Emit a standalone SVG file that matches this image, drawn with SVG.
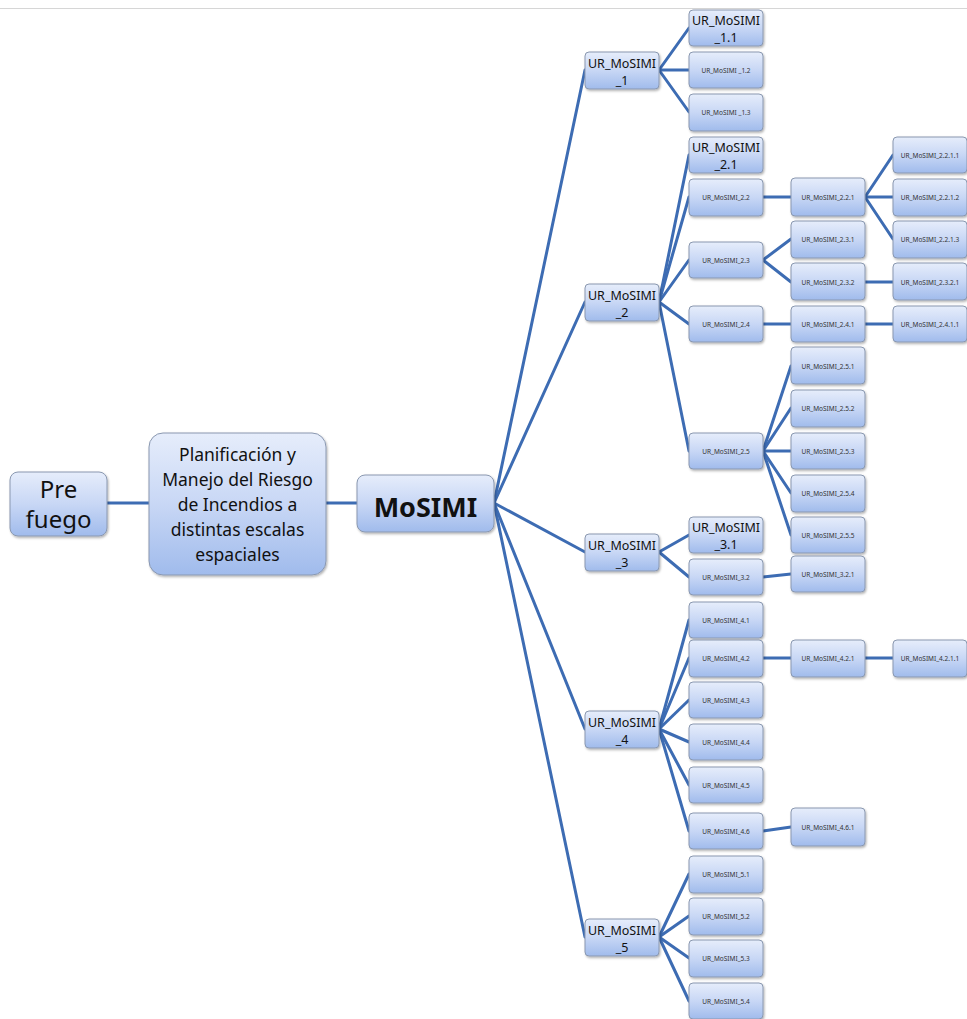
<svg xmlns="http://www.w3.org/2000/svg" width="967" height="1019" viewBox="0 0 967 1019">
<defs>
<linearGradient id="g" x1="0" y1="0" x2="0" y2="1">
<stop offset="0" stop-color="#e6edfb"/>
<stop offset="0.5" stop-color="#c8d7f5"/>
<stop offset="1" stop-color="#a0bbec"/>
</linearGradient>
<filter id="sh" x="-10%" y="-10%" width="130%" height="140%">
<feDropShadow dx="1" dy="1.5" stdDeviation="1.2" flood-color="#000" flood-opacity="0.3"/>
</filter>
<style>
.n rect{fill:url(#g);stroke:#8a98b0;stroke-width:1;filter:url(#sh)}
.n text{font-family:"Noto Sans","Liberation Sans",sans-serif;fill:#111;text-anchor:middle}
.big{font-size:12.5px}
.sm{font-size:6.5px;fill:#333 !important}
.c line{stroke:#3d6cb3;stroke-width:3;stroke-linecap:round}
</style>
</defs>
<rect width="967" height="1019" fill="#fff"/>
<line x1="0" y1="8.5" x2="967" y2="8.5" stroke="#d6d6d6" stroke-width="1"/>

<g id="connectors" class="c">
<line x1="107" y1="503" x2="149" y2="503"/>
<line x1="326" y1="503" x2="357" y2="503"/>
<line x1="494" y1="503" x2="585" y2="70"/>
<line x1="494" y1="503" x2="585" y2="302"/>
<line x1="494" y1="503" x2="585" y2="552"/>
<line x1="494" y1="503" x2="585" y2="729"/>
<line x1="494" y1="503" x2="585" y2="937"/>
<line x1="659" y1="70" x2="689" y2="28"/>
<line x1="659" y1="70" x2="689" y2="70"/>
<line x1="659" y1="70" x2="689" y2="112"/>
<line x1="659" y1="302" x2="689" y2="155"/>
<line x1="659" y1="302" x2="689" y2="197"/>
<line x1="659" y1="302" x2="689" y2="260"/>
<line x1="659" y1="302" x2="689" y2="324"/>
<line x1="659" y1="302" x2="689" y2="451"/>
<line x1="659" y1="552" x2="689" y2="535"/>
<line x1="659" y1="552" x2="689" y2="577"/>
<line x1="659" y1="729" x2="689" y2="620"/>
<line x1="659" y1="729" x2="689" y2="658"/>
<line x1="659" y1="729" x2="689" y2="700"/>
<line x1="659" y1="729" x2="689" y2="742"/>
<line x1="659" y1="729" x2="689" y2="785"/>
<line x1="659" y1="729" x2="689" y2="831"/>
<line x1="659" y1="937" x2="689" y2="874"/>
<line x1="659" y1="937" x2="689" y2="916"/>
<line x1="659" y1="937" x2="689" y2="958"/>
<line x1="659" y1="937" x2="689" y2="1001"/>
<line x1="763" y1="197" x2="791" y2="197"/>
<line x1="763" y1="260" x2="791" y2="239"/>
<line x1="763" y1="260" x2="791" y2="282"/>
<line x1="763" y1="324" x2="791" y2="324"/>
<line x1="763" y1="451" x2="791" y2="366"/>
<line x1="763" y1="451" x2="791" y2="408"/>
<line x1="763" y1="451" x2="791" y2="451"/>
<line x1="763" y1="451" x2="791" y2="493"/>
<line x1="763" y1="451" x2="791" y2="535"/>
<line x1="763" y1="577" x2="791" y2="574"/>
<line x1="763" y1="658" x2="791" y2="658"/>
<line x1="763" y1="831" x2="791" y2="827"/>
<line x1="865" y1="197" x2="893" y2="155"/>
<line x1="865" y1="197" x2="893" y2="197"/>
<line x1="865" y1="197" x2="893" y2="239"/>
<line x1="865" y1="282" x2="893" y2="282"/>
<line x1="865" y1="324" x2="893" y2="324"/>
<line x1="865" y1="658" x2="893" y2="658"/>
</g>

<g id="prefuego" class="n"><rect x="10" y="472" width="97" height="64" rx="8"/>
<text style="font-size:24px"><tspan x="58.5" y="498">Pre</tspan><tspan x="58.5" y="528">fuego</tspan></text></g>

<g id="planificacion" class="n"><rect x="149" y="433" width="177" height="142" rx="14"/>
<text style="font-size:17.5px"><tspan x="237.5" y="461">Planificación y</tspan><tspan x="237.5" y="486">Manejo del Riesgo</tspan><tspan x="237.5" y="511">de Incendios a</tspan><tspan x="237.5" y="536">distintas escalas</tspan><tspan x="237.5" y="561">espaciales</tspan></text></g>

<g id="mosimi" class="n"><rect x="357" y="475" width="137" height="57" rx="8"/>
<text x="425.5" y="517" style="font-size:27px;font-weight:bold">MoSIMI</text></g>

<g id="ur1" class="n"><rect x="585" y="52" width="74" height="37" rx="4"/>
<text class="big"><tspan x="622" y="68">UR_MoSIMI</tspan><tspan x="622" y="85">_1</tspan></text></g>
<g id="ur2" class="n"><rect x="585" y="284" width="74" height="37" rx="4"/>
<text class="big"><tspan x="622" y="300">UR_MoSIMI</tspan><tspan x="622" y="317">_2</tspan></text></g>
<g id="ur3" class="n"><rect x="585" y="534" width="74" height="37" rx="4"/>
<text class="big"><tspan x="622" y="550">UR_MoSIMI</tspan><tspan x="622" y="567">_3</tspan></text></g>
<g id="ur4" class="n"><rect x="585" y="711" width="74" height="37" rx="4"/>
<text class="big"><tspan x="622" y="727">UR_MoSIMI</tspan><tspan x="622" y="744">_4</tspan></text></g>
<g id="ur5" class="n"><rect x="585" y="919" width="74" height="37" rx="4"/>
<text class="big"><tspan x="622" y="935">UR_MoSIMI</tspan><tspan x="622" y="952">_5</tspan></text></g>

<g id="ur1_1" class="n"><rect x="689" y="10" width="74" height="36" rx="4"/>
<text class="big"><tspan x="726" y="25">UR_MoSIMI</tspan><tspan x="726" y="42">_1.1</tspan></text></g>
<g id="ur1_2" class="n"><rect x="689" y="52" width="74" height="36" rx="4"/><text class="sm" x="726" y="72.5">UR_MoSIMI _1.2</text></g>
<g id="ur1_3" class="n"><rect x="689" y="94" width="74" height="37" rx="4"/><text class="sm" x="726" y="115">UR_MoSIMI _1.3</text></g>
<g id="ur2_1" class="n"><rect x="689" y="137" width="74" height="36" rx="4"/>
<text class="big"><tspan x="726" y="152">UR_MoSIMI</tspan><tspan x="726" y="169">_2.1</tspan></text></g>
<g id="ur2_2" class="n"><rect x="689" y="179" width="74" height="37" rx="4"/><text class="sm" x="726" y="199.5">UR_MoSIMI_2.2</text></g>
<g id="ur2_3" class="n"><rect x="689" y="242" width="74" height="36" rx="4"/><text class="sm" x="726" y="262.5">UR_MoSIMI_2.3</text></g>
<g id="ur2_4" class="n"><rect x="689" y="306" width="74" height="36" rx="4"/><text class="sm" x="726" y="326.5">UR_MoSIMI_2.4</text></g>
<g id="ur2_5" class="n"><rect x="689" y="433" width="74" height="36" rx="4"/><text class="sm" x="726" y="453.5">UR_MoSIMI_2.5</text></g>
<g id="ur3_1" class="n"><rect x="689" y="517" width="74" height="36" rx="4"/>
<text class="big"><tspan x="726" y="532">UR_MoSIMI</tspan><tspan x="726" y="549">_3.1</tspan></text></g>
<g id="ur3_2" class="n"><rect x="689" y="559" width="74" height="36" rx="4"/><text class="sm" x="726" y="579.5">UR_MoSIMI_3.2</text></g>
<g id="ur4_1" class="n"><rect x="689" y="602" width="74" height="36" rx="4"/><text class="sm" x="726" y="622.5">UR_MoSIMI_4.1</text></g>
<g id="ur4_2" class="n"><rect x="689" y="640" width="74" height="37" rx="4"/><text class="sm" x="726" y="660.5">UR_MoSIMI_4.2</text></g>
<g id="ur4_3" class="n"><rect x="689" y="682" width="74" height="36" rx="4"/><text class="sm" x="726" y="702.5">UR_MoSIMI_4.3</text></g>
<g id="ur4_4" class="n"><rect x="689" y="724" width="74" height="36" rx="4"/><text class="sm" x="726" y="744.5">UR_MoSIMI_4.4</text></g>
<g id="ur4_5" class="n"><rect x="689" y="767" width="74" height="36" rx="4"/><text class="sm" x="726" y="787.5">UR_MoSIMI_4.5</text></g>
<g id="ur4_6" class="n"><rect x="689" y="813" width="74" height="36" rx="4"/><text class="sm" x="726" y="833.5">UR_MoSIMI_4.6</text></g>
<g id="ur5_1" class="n"><rect x="689" y="856" width="74" height="37" rx="4"/><text class="sm" x="726" y="876.5">UR_MoSIMI_5.1</text></g>
<g id="ur5_2" class="n"><rect x="689" y="898" width="74" height="37" rx="4"/><text class="sm" x="726" y="918.5">UR_MoSIMI_5.2</text></g>
<g id="ur5_3" class="n"><rect x="689" y="940" width="74" height="37" rx="4"/><text class="sm" x="726" y="960.5">UR_MoSIMI_5.3</text></g>
<g id="ur5_4" class="n"><rect x="689" y="983" width="74" height="36" rx="4"/><text class="sm" x="726" y="1003.5">UR_MoSIMI_5.4</text></g>

<g id="ur2_2_1" class="n"><rect x="791" y="178" width="74" height="38" rx="4"/><text class="sm" x="828" y="199.5">UR_MoSIMI_2.2.1</text></g>
<g id="ur2_3_1" class="n"><rect x="791" y="221" width="74" height="37" rx="4"/><text class="sm" x="828" y="241.5">UR_MoSIMI_2.3.1</text></g>
<g id="ur2_3_2" class="n"><rect x="791" y="263" width="74" height="37" rx="4"/><text class="sm" x="828" y="284.5">UR_MoSIMI_2.3.2</text></g>
<g id="ur2_4_1" class="n"><rect x="791" y="306" width="74" height="36" rx="4"/><text class="sm" x="828" y="326.5">UR_MoSIMI_2.4.1</text></g>
<g id="ur2_5_1" class="n"><rect x="791" y="347" width="74" height="37" rx="4"/><text class="sm" x="828" y="368.5">UR_MoSIMI_2.5.1</text></g>
<g id="ur2_5_2" class="n"><rect x="791" y="390" width="74" height="37" rx="4"/><text class="sm" x="828" y="410.5">UR_MoSIMI_2.5.2</text></g>
<g id="ur2_5_3" class="n"><rect x="791" y="433" width="74" height="36" rx="4"/><text class="sm" x="828" y="453.5">UR_MoSIMI_2.5.3</text></g>
<g id="ur2_5_4" class="n"><rect x="791" y="475" width="74" height="37" rx="4"/><text class="sm" x="828" y="495.5">UR_MoSIMI_2.5.4</text></g>
<g id="ur2_5_5" class="n"><rect x="791" y="517" width="74" height="36" rx="4"/><text class="sm" x="828" y="537.5">UR_MoSIMI_2.5.5</text></g>
<g id="ur3_2_1" class="n"><rect x="791" y="556" width="74" height="36" rx="4"/><text class="sm" x="828" y="576.5">UR_MoSIMI_3.2.1</text></g>
<g id="ur4_2_1" class="n"><rect x="791" y="640" width="74" height="37" rx="4"/><text class="sm" x="828" y="660.5">UR_MoSIMI_4.2.1</text></g>
<g id="ur4_6_1" class="n"><rect x="791" y="808" width="74" height="38" rx="4"/><text class="sm" x="828" y="829.5">UR_MoSIMI_4.6.1</text></g>

<g id="ur2_2_1_1" class="n"><rect x="893" y="137" width="74" height="36" rx="4"/><text class="sm" x="930" y="157.5">UR_MoSIMI_2.2.1.1</text></g>
<g id="ur2_2_1_2" class="n"><rect x="893" y="179" width="74" height="37" rx="4"/><text class="sm" x="930" y="199.5">UR_MoSIMI_2.2.1.2</text></g>
<g id="ur2_2_1_3" class="n"><rect x="893" y="221" width="74" height="37" rx="4"/><text class="sm" x="930" y="241.5">UR_MoSIMI_2.2.1.3</text></g>
<g id="ur2_3_2_1" class="n"><rect x="893" y="263" width="74" height="37" rx="4"/><text class="sm" x="930" y="284.5">UR_MoSIMI_2.3.2.1</text></g>
<g id="ur2_4_1_1" class="n"><rect x="893" y="306" width="74" height="36" rx="4"/><text class="sm" x="930" y="326.5">UR_MoSIMI_2.4.1.1</text></g>
<g id="ur4_2_1_1" class="n"><rect x="893" y="640" width="74" height="37" rx="4"/><text class="sm" x="930" y="660.5">UR_MoSIMI_4.2.1.1</text></g>
</svg>
